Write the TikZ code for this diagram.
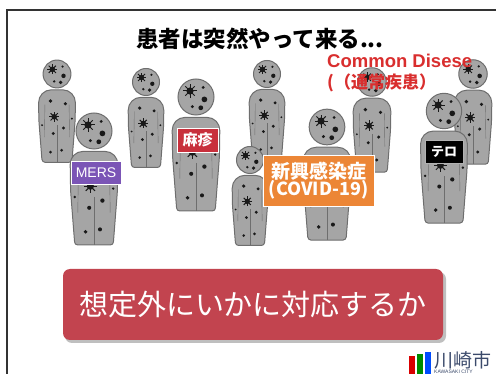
\documentclass[tikz,border=0pt]{standalone}
\usepackage{fontspec}
\setmainfont{Noto Sans CJK JP}
\newfontfamily\latin{Liberation Sans}
\usetikzlibrary{positioning}

\definecolor{bodygray}{HTML}{A5A5A5}
\definecolor{bodyline}{HTML}{6E6E6E}
\definecolor{mersviolet}{HTML}{7B55B6}
\definecolor{measlesred}{HTML}{C8303C}
\definecolor{covidorange}{HTML}{EC8636}
\definecolor{commonred}{HTML}{D92E2E}
\definecolor{bannerred}{HTML}{C2444F}
\definecolor{cityblue}{HTML}{3B4A6B}

\tikzset{
    spot/.style={fill=black!90},
    figure/.style={
           fill=bodygray,
           draw=bodyline, line width=1pt,
           },
    tag/.style={
           rectangle,
           draw=white, line width=0.8pt,
           text=white,
           inner sep=0pt,
           align=center,
           },
}
% one germ: a dark dot with short spikes
\newcommand\germ[2]{%
  \fill[spot] (#1,#2) circle (3);
  \foreach \a in {0,45,...,315}
    \draw[black!90,line width=1pt] (#1,#2) -- ++(\a:5.5);
}
\tikzset{
    patient/.pic={
      % body, legs and arms
      \draw[figure] (0,95) [rounded corners=3] -- (-16,95) -- (-19.5,50)
            [rounded corners=13] -- (-20,17) -- (20,17)
            [rounded corners=3] -- (19.5,50) -- (16,95) -- cycle;
      \draw[bodyline] (0,55) -- (0,95);
      \draw[bodyline] (-13,33) -- (-13.5,68) (13,33) -- (13.5,68);
      % head
      \draw[figure] (0,0) circle (15);
      % spots
      \germ{-5}{-5}
      \germ{-3}{46}
      \fill[spot] (6,-8) circle (1.3) (7,2) circle (2.4)
                  (-3,8) circle (1.4) (4,9) circle (2)
                  (9,32) circle (1.8) (-7,29) circle (2)
                  (-4,64) circle (1.7) (7,58) circle (1.8)
                  (-7,84) circle (1.6) (5,82) circle (1.7)
                  (-16,55) circle (1.1) (16,48) circle (1.1);
    },
}

\begin{document}
\begin{tikzpicture}[x=1pt,y=-1pt]
 \useasboundingbox (0,0) rectangle (496,374);

 % slide frame
 \draw[black!80,line width=1.3pt] (7,374) -- (7,10) -- (496,10);

 \node (title) at (260,39)
   {\fontsize{22.5}{25}\selectfont\bfseries 患者は突然やって来る...};

 % patients at the back
 \pic[scale=0.93] (p1) at (57,74) {patient};
 \pic[scale=0.9] (p3) at (146,82) {patient};
 \pic[scale=0.9] (p6) at (267,74) {patient};
 \pic[scale=0.95] (p8) at (372,82) {patient};
 \pic[scale=0.95] (p10) at (473,74) {patient};
 \pic[scale=0.9] (p5) at (250,160) {patient};
 % patients in front
 \pic[scale=1.2] (p2) at (94,131) {patient};
 \pic[scale=1.2] (p4) at (196,97) {patient};
 \pic[scale=1.19] (p7) at (327,127) {patient};
 \pic[scale=1.18] (p9) at (444,111) {patient};

 % what they carry
 \node[tag,fill=mersviolet,minimum width=50pt,minimum height=23pt]
   (mers) at (96,172.5) {\latin\fontsize{14}{16}\selectfont MERS};
 \node[tag,fill=measlesred,minimum width=41pt,minimum height=24pt]
   (measles) at (197.5,140) {\fontsize{15}{17}\selectfont\bfseries 麻疹};
 \node[tag,fill=covidorange,minimum width=111pt,minimum height=51pt,
   font=\bfseries]
   (covid) at (318.5,180.5)
   {\fontsize{19}{22}\selectfont 新興感染症\\[-1pt]
    \fontsize{18}{21}\selectfont\bfseries (COVID-19)};
 \node[tag,fill=black,draw=black!30,minimum width=38pt,minimum height=23pt]
   (terror) at (444,151.5) {\fontsize{13}{15}\selectfont\bfseries テロ};

 \node[text=commonred,align=left,anchor=north west,inner sep=0pt]
   (common) at (327,54)
   {\latin\fontsize{18.5}{20}\selectfont\bfseries Common Disese\\[5pt]
    \fontsize{17}{20}\selectfont\bfseries (（通常疾患）};

 % banner
 \fill[black!25,rounded corners=7] (65,272) rectangle (446,343);
 \node[fill=bannerred,rounded corners=7,text=white,
   minimum width=380pt,minimum height=71pt,inner sep=0pt]
   (banner) at (253,304.5)
   {\fontsize{29}{32}\selectfont 想定外にいかに対応するか};

 % city logo
 \fill[red!85!black] (409,356) rectangle (415,374);
 \fill[green!55!black] (417,354) rectangle (423,374);
 \fill[blue!70!cyan] (425,352) rectangle (431,374);
 \node[text=cityblue,anchor=west,inner sep=0pt] (city) at (434,360)
   {\fontsize{19}{21}\selectfont 川崎市};
 \node[text=cityblue,anchor=west,inner sep=0pt] (cityen) at (434,372)
   {\latin\fontsize{5}{6}\selectfont KAWASAKI CITY};
\end{tikzpicture}
\end{document}
